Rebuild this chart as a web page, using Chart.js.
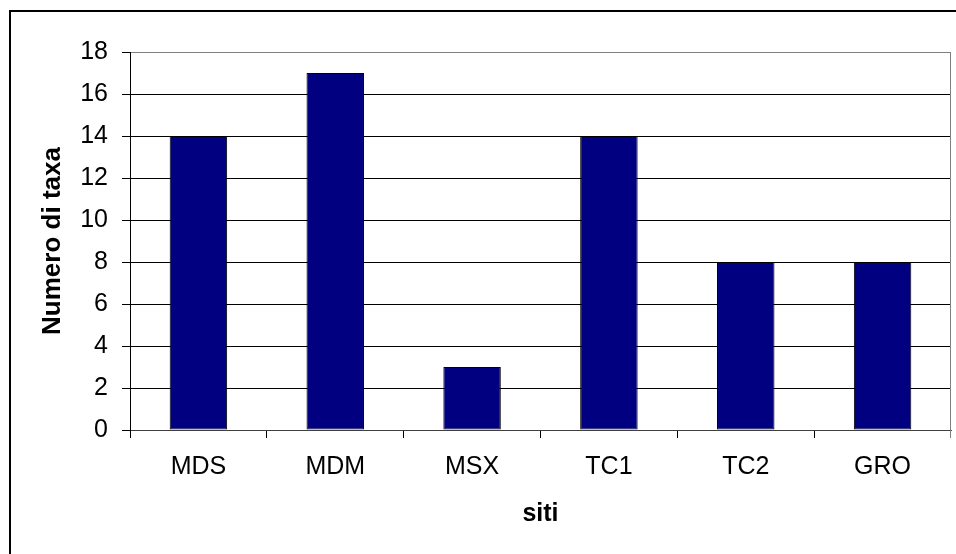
<!DOCTYPE html>
<html>
<head>
<meta charset="utf-8">
<script src="https://cdn.jsdelivr.net/npm/chart.js@4/dist/chart.umd.min.js"></script>
<style>
html,body{margin:0;padding:0;background:#fff;}
#wrap{position:relative;width:956px;height:554px;}
</style>
</head>
<body>
<div id="wrap"><canvas id="c" width="956" height="554"></canvas></div>
<script>
const categories = ["MDS", "MDM", "MSX", "TC1", "TC2", "GRO"];
const taxaCounts = [14, 17, 3, 14, 8, 8];
const yTitle = "Numero di taxa";
const xTitle = "siti";
const yMin = 0, yMax = 18, yStep = 2;

const framePlugin = {
  id: 'frame',
  beforeDraw(chart) {
    const ctx = chart.ctx;
    ctx.save();
    ctx.fillStyle = '#fff';
    ctx.fillRect(0, 0, chart.width, chart.height);
    ctx.strokeStyle = '#000';
    ctx.lineWidth = 2;
    ctx.beginPath();
    ctx.moveTo(10, chart.height + 5);
    ctx.lineTo(10, 11);
    ctx.lineTo(chart.width + 5, 11);
    ctx.stroke();
    ctx.restore();
  },
  afterDatasetsDraw(chart) {
    const ctx = chart.ctx, a = chart.chartArea;
    ctx.save();
    ctx.strokeStyle = '#808080';
    ctx.lineWidth = 1;
    ctx.beginPath();
    ctx.moveTo(Math.round(a.right) - 0.5, a.top);
    ctx.lineTo(Math.round(a.right) - 0.5, a.bottom + 8);
    ctx.stroke();
    ctx.restore();
  }
};

const fam = 'Liberation Sans, Arial, sans-serif';

new Chart(document.getElementById('c'), {
  type: 'bar',
  data: {
    labels: categories,
    datasets: [{
      data: taxaCounts,
      backgroundColor: '#000080',
      borderColor: '#000000',
      borderWidth: 1,
      borderSkipped: false,
      barPercentage: 0.42,
      categoryPercentage: 1.0
    }]
  },
  options: {
    responsive: false,
    animation: false,
    devicePixelRatio: 1,
    layout: { padding: { left: 0, top: 52, right: 5, bottom: 0 } },
    plugins: { legend: { display: false }, tooltip: { enabled: false } },
    scales: {
      x: {
        afterFit(s) { s.height = 124; },
        grid: { display: true, drawOnChartArea: false, drawTicks: true, tickLength: 8, color: '#000', offset: true },
        border: { display: true, color: '#404040', width: 1 },
        ticks: { color: '#000', padding: 14, font: { family: fam, size: 25 } },
        title: { display: true, text: xTitle, color: '#000', padding: { top: 0, bottom: 25 },
                 font: { family: fam, size: 25, weight: 'bold' } }
      },
      y: {
        min: yMin, max: yMax,
        afterFit(s) { s.width = 130; },
        grid: { color: c => (c.tick && c.tick.value === yMax) ? '#808080' : '#000', tickColor: '#000', tickLength: 8, lineWidth: 1 },
        border: { display: true, color: '#000', width: 1 },
        ticks: { stepSize: yStep, color: '#000', padding: 14, font: { family: fam, size: 25 } },
        title: { display: true, text: yTitle, color: '#000', padding: { top: 37, bottom: 0 },
                 font: { family: fam, size: 26, weight: 'bold' } }
      }
    }
  },
  plugins: [framePlugin]
});
</script>
</body>
</html>
